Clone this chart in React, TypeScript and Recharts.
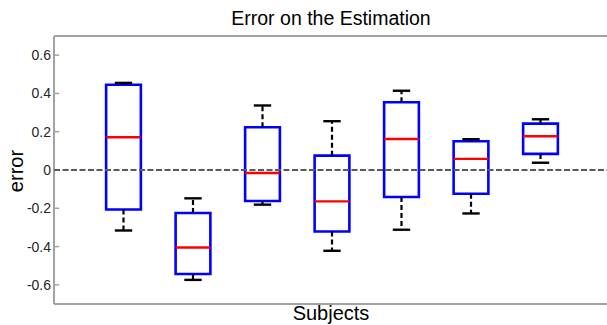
import React from 'react';
import { ComposedChart, XAxis, YAxis, ReferenceArea, ReferenceLine, Customized } from 'recharts';

const subjects = ['S1', 'S2', 'S3', 'S4', 'S5', 'S6', 'S7'];
const whiskerHigh = [0.455, -0.148, 0.337, 0.255, 0.414, 0.161, 0.265];
const q3 = [0.445, -0.225, 0.223, 0.075, 0.354, 0.150, 0.242];
const median = [0.171, -0.405, -0.016, -0.164, 0.162, 0.058, 0.176];
const q1 = [-0.206, -0.543, -0.162, -0.321, -0.141, -0.124, 0.084];
const whiskerLow = [-0.316, -0.574, -0.181, -0.422, -0.312, -0.227, 0.038];
const yTicks = [-0.6, -0.4, -0.2, 0, 0.2, 0.4, 0.6];

const X_MIN = 0;
const X_MAX = 8;
const Y_MIN = -0.7;
const Y_MAX = 0.7;

const data = subjects.map((s, i) => ({
  name: s,
  x: i + 1,
  whiskerHigh: whiskerHigh[i],
  q3: q3[i],
  median: median[i],
  q1: q1[i],
  whiskerLow: whiskerLow[i],
}));

const FONT = '"Liberation Sans", Arial, Helvetica, sans-serif';
const AXIS_COLOR = '#a3a3a3';
const BOX_HALF = 0.25;
const CAP_HALF = 0.125;
const TICK_LEN = 0.075;

const Texts = () => (
  <g>
    <text x={331} y={25} textAnchor="middle" fontSize={19.5} fontFamily={FONT} fill="#000">
      Error on the Estimation
    </text>
    <text x={331} y={320} textAnchor="middle" fontSize={20} fontFamily={FONT} fill="#000">
      Subjects
    </text>
    <text
      x={23}
      y={171}
      textAnchor="middle"
      fontSize={20}
      fontFamily={FONT}
      fill="#000"
      transform="rotate(-90, 23, 171)"
    >
      error
    </text>
  </g>
);

export default function App() {
  return (
    <div
      style={{
        position: 'fixed',
        left: 0,
        top: 0,
        width: 607,
        height: 325,
        overflow: 'hidden',
        background: '#fff',
      }}
    >
      <ComposedChart
        width={612}
        height={325}
        data={data}
        margin={{ top: 36, right: 2, bottom: 21, left: 0 }}
      >
        <XAxis
          dataKey="x"
          type="number"
          domain={[X_MIN, X_MAX]}
          allowDataOverflow
          hide
        />
        <YAxis
          type="number"
          domain={[Y_MIN, Y_MAX]}
          allowDataOverflow
          ticks={yTicks}
          interval={0}
          width={54}
          tickSize={0}
          tickMargin={3}
          tickLine={false}
          axisLine={false}
          tick={{ fontSize: 14, fontFamily: FONT, fill: '#262626' }}
        />
        <YAxis
          yAxisId="right"
          orientation="right"
          type="number"
          domain={[Y_MIN, Y_MAX]}
          allowDataOverflow
          ticks={yTicks}
          interval={0}
          width={0}
          tickSize={-6}
          tick={false}
          tickLine={{ stroke: AXIS_COLOR, strokeWidth: 1.5 }}
          axisLine={false}
        />
        {/* frame */}
        <ReferenceLine y={Y_MAX} stroke={AXIS_COLOR} strokeWidth={2} />
        <ReferenceLine y={Y_MIN} stroke={AXIS_COLOR} strokeWidth={2} />
        <ReferenceLine x={X_MIN} stroke={AXIS_COLOR} strokeWidth={2} />
        {yTicks.map((t) => (
          <ReferenceLine
            key={`lt-${t}`}
            segment={[
              { x: X_MIN, y: t },
              { x: X_MIN + TICK_LEN, y: t },
            ]}
            stroke={AXIS_COLOR}
            strokeWidth={1.5}
          />
        ))}
        <ReferenceLine y={0} stroke="#5a5a5a" strokeWidth={2} strokeDasharray="6 2.5" />
        {data.map((d) => (
          <ReferenceLine
            key={`wh-${d.name}`}
            segment={[
              { x: d.x, y: d.q3 },
              { x: d.x, y: d.whiskerHigh },
            ]}
            stroke="#000"
            strokeWidth={2.2}
            strokeDasharray="5 3"
          />
        ))}
        {data.map((d) => (
          <ReferenceLine
            key={`wl-${d.name}`}
            segment={[
              { x: d.x, y: d.q1 },
              { x: d.x, y: d.whiskerLow },
            ]}
            stroke="#000"
            strokeWidth={2.2}
            strokeDasharray="5 3"
          />
        ))}
        {data.map((d) => (
          <ReferenceLine
            key={`ch-${d.name}`}
            segment={[
              { x: d.x - CAP_HALF, y: d.whiskerHigh },
              { x: d.x + CAP_HALF, y: d.whiskerHigh },
            ]}
            stroke="#000"
            strokeWidth={2.4}
          />
        ))}
        {data.map((d) => (
          <ReferenceLine
            key={`cl-${d.name}`}
            segment={[
              { x: d.x - CAP_HALF, y: d.whiskerLow },
              { x: d.x + CAP_HALF, y: d.whiskerLow },
            ]}
            stroke="#000"
            strokeWidth={2.4}
          />
        ))}
        {data.map((d) => (
          <ReferenceArea
            key={`box-${d.name}`}
            x1={d.x - BOX_HALF}
            x2={d.x + BOX_HALF}
            y1={d.q1}
            y2={d.q3}
            fill="none"
            fillOpacity={0}
            stroke="#0000ff"
            strokeWidth={2.6}
            strokeOpacity={1}
          />
        ))}
        {data.map((d) => (
          <ReferenceLine
            key={`med-${d.name}`}
            segment={[
              { x: d.x - BOX_HALF, y: d.median },
              { x: d.x + BOX_HALF, y: d.median },
            ]}
            stroke="#ff0000"
            strokeWidth={2.4}
          />
        ))}
        <Customized component={Texts} />
      </ComposedChart>
    </div>
  );
}
